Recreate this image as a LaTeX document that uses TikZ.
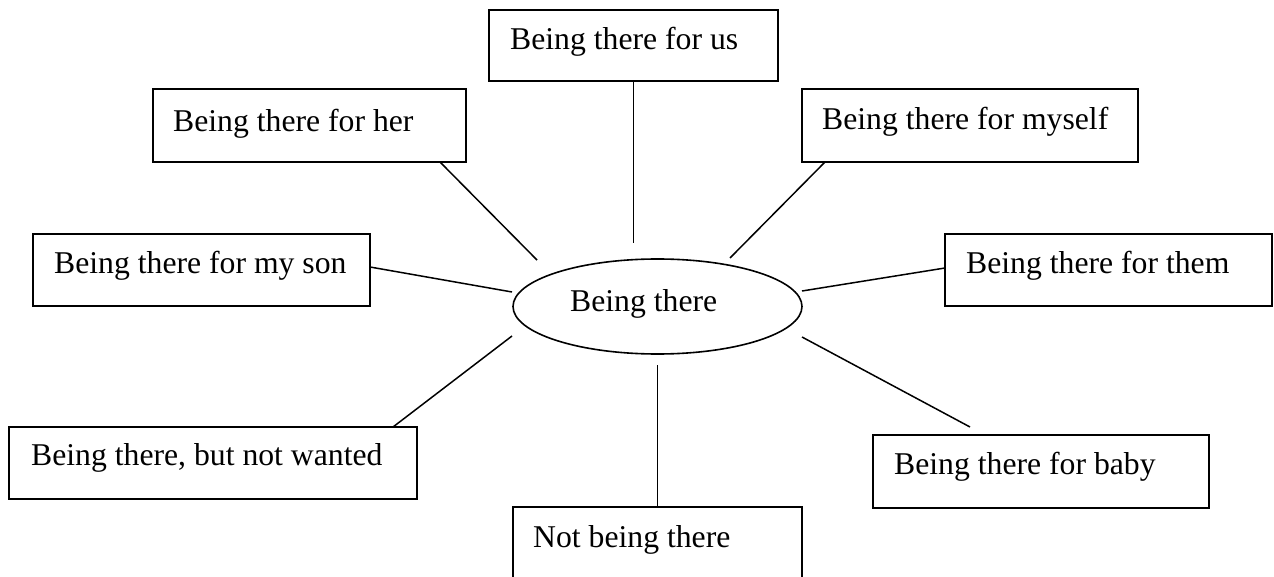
\documentclass[tikz,border=0pt]{standalone}
\usepackage{fontspec}
\setmainfont{Liberation Serif}
\usetikzlibrary{shapes.geometric}
\begin{document}
\begin{tikzpicture}[x=1pt,y=-1pt,
  box/.style={draw,rectangle,line width=1.6pt,inner sep=0pt,outer sep=0pt},
  hub/.style={draw,ellipse,line width=1.6pt,inner sep=0pt,outer sep=0pt},
  lbl/.style={anchor=base west,inner sep=0pt,font=\fontsize{31.7}{38}\selectfont},
  link/.style={line width=1.5pt}]
\useasboundingbox (0,0) rectangle (1274,577);
\clip (0,0) rectangle (1274,577);

% central idea
\node[hub,minimum width=289pt,minimum height=95pt] (core) at (657.5,306.5) {};
\node[lbl] at (570,312) {Being there};

% surrounding boxes
\node[box,minimum width=289pt,minimum height=71pt] (us) at (633.5,45.5) {};
\node[lbl] at (510,50) {Being there for us};

\node[box,minimum width=313pt,minimum height=73pt] (her) at (309.5,125.5) {};
\node[lbl] at (173,132) {Being there for her};

\node[box,minimum width=336pt,minimum height=73pt] (myself) at (970,125.5) {};
\node[lbl] at (822,130) {Being there for myself};

\node[box,minimum width=337pt,minimum height=72pt] (son) at (201.5,270) {};
\node[lbl] at (54,274) {Being there for my son};

\node[box,minimum width=327pt,minimum height=72pt] (them) at (1108.5,270) {};
\node[lbl] at (966,274) {Being there for them};

\node[box,minimum width=408pt,minimum height=72pt] (wanted) at (213,463) {};
\node[lbl] at (31,465) {Being there, but not wanted};

\node[box,minimum width=336pt,minimum height=73pt] (baby) at (1041,471.5) {};
\node[lbl] at (894,474) {Being there for baby};

\node[box,minimum width=289pt,minimum height=110pt] (notb) at (657.5,562) {};
\node[lbl] at (533,547) {Not being there};

% loose ends of the spokes near the centre
\coordinate (e-us) at (633.5,243);
\coordinate (e-her) at (537,260);
\coordinate (e-myself) at (730,258);
\coordinate (e-son) at (512,292);
\coordinate (e-them) at (802,291);
\coordinate (e-wanted) at (512,336);
\coordinate (e-baby) at (802,337);
\coordinate (e-notb) at (657.5,365);
\coordinate (s-baby) at (970,427);

% spokes
\draw[link] (us.south) -- (e-us);
\draw[link] ([xshift=287pt]her.south west) -- (e-her);
\draw[link] ([xshift=23pt]myself.south west) -- (e-myself);
\draw[link] ([yshift=3pt]son.east) -- (e-son);
\draw[link] ([yshift=2pt]them.west) -- (e-them);
\draw[link] ([xshift=384pt]wanted.north west) -- (e-wanted);
\draw[link] (s-baby) -- (e-baby);
\draw[link] (notb.north) -- (e-notb);
\end{tikzpicture}
\end{document}
